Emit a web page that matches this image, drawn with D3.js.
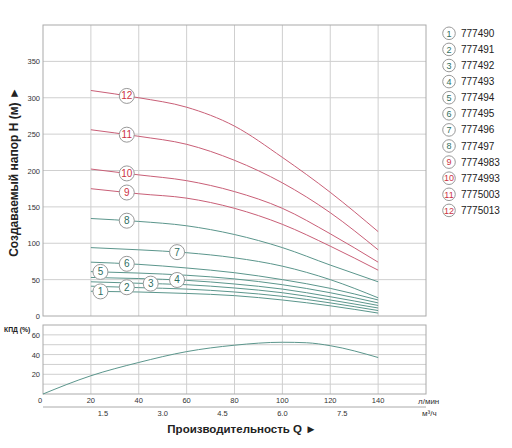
<!DOCTYPE html>
<html>
<head>
<meta charset="utf-8">
<script src="https://cdn.jsdelivr.net/npm/d3@7"></script>
<style>
    body { margin: 0; background: #fff; }
    svg { font-family: "Liberation Sans", Arial, sans-serif; }
</style>
</head>
<body>
<svg id="chart" width="512" height="448"></svg>
<script>
// Flow points (l/min) where the head curves were read
const flowLpm = [20, 40, 60, 80, 100, 120, 140];

// Head H (m) per pump
const head1  = [34, 33, 31, 28, 22, 14, 4];
const head2  = [41, 39, 37, 33, 27, 18, 7.5];
const head3  = [47, 45, 43, 38.5, 32, 22, 11];
const head4  = [53, 51.5, 49, 44, 37, 26.5, 14.5];
const head5  = [61, 59, 56, 51, 43, 32, 18];
const head6  = [74, 71, 66, 59.5, 50, 38, 22];
const head7  = [94, 91, 87, 80, 68.5, 50, 25];
const head8  = [134, 130, 124, 112, 94, 70, 47];
const head9  = [175, 168, 162, 148, 126, 96, 63];
const head10 = [202, 194, 186, 171, 148, 113, 74];
const head11 = [256, 247, 236, 214, 183, 142, 91];
const head12 = [310, 300, 287, 261, 218, 170, 116];
const heads = [head1, head2, head3, head4, head5, head6, head7, head8, head9, head10, head11, head12];

const models = ['777490', '777491', '777492', '777493', '777494', '777495',
                '777496', '777497', '7774983', '7774993', '7775003', '7775013'];
// where each numbered marker sits along its curve (l/min)
const labelFlow = [24, 35, 45, 56, 24, 35, 56, 35, 35, 35, 35, 35];

// Efficiency curve
const effFlow   = [0, 20, 40, 60, 80, 100, 110, 120, 140];
const effValues = [0, 18.5, 32, 43, 49.5, 52.5, 52, 49, 37];

// Tick labels
const flowTicks  = [0, 20, 40, 60, 80, 100, 120, 140];
const cubicTicks = ['1.5', '3.0', '4.5', '6.0', '7.5'];
const headTicks  = [0, 50, 100, 150, 200, 250, 300, 350];
const effTicks   = [20, 40, 60];

const GREEN = '#5b968c', RED = '#c95f77';
const GREEN_TXT = '#2f6f62', RED_TXT = '#cc3344';
const GRID = '#cfcfcf', FRAME = '#aaaaaa';

const svg = d3.select('#chart');

const x = d3.scaleLinear().domain([0, 160]).range([43, 426]);
const xCubic = d3.scaleLinear().domain([0, 9.6]).range([43, 426]);
const yH = d3.scaleLinear().domain([0, 400]).range([316, 25]);
const yE = d3.scaleLinear().domain([0, 70]).range([394, 325]);

function drawPanel(yScale, hTicks, top, bottom) {
    const g = svg.append('g');
    g.selectAll('line.v').data(d3.range(20, 160, 20)).enter().append('line')
        .attr('x1', d => x(d)).attr('x2', d => x(d))
        .attr('y1', top).attr('y2', bottom)
        .attr('stroke', GRID).attr('stroke-width', 1);
    g.selectAll('line.h').data(hTicks).enter().append('line')
        .attr('x1', x(0)).attr('x2', x(160))
        .attr('y1', d => yScale(d)).attr('y2', d => yScale(d))
        .attr('stroke', GRID).attr('stroke-width', 1);
    g.append('rect')
        .attr('x', x(0)).attr('y', top)
        .attr('width', x(160) - x(0)).attr('height', bottom - top)
        .attr('fill', 'none').attr('stroke', FRAME).attr('stroke-width', 1);
    return g;
}

// ---- head panel ----
drawPanel(yH, d3.range(50, 400, 50), yH(400), yH(0));

svg.append('g').selectAll('text').data(headTicks).enter().append('text')
    .attr('x', 40).attr('y', d => yH(d) + 3)
    .attr('text-anchor', 'end').attr('font-size', 7.5).attr('fill', '#333')
    .text(d => d);

const headLine = d3.line()
    .x((d, i) => x(flowLpm[i]))
    .y(d => yH(d))
    .curve(d3.curveMonotoneX);

svg.append('g').selectAll('path').data(heads).enter().append('path')
    .attr('d', headLine)
    .attr('fill', 'none')
    .attr('stroke', (d, i) => i >= 8 ? RED : GREEN)
    .attr('stroke-width', 1);

// numbered markers on curves
function headAt(series, q) {
    const i = Math.max(0, Math.min(flowLpm.length - 2, d3.bisectRight(flowLpm, q) - 1));
    const t = (q - flowLpm[i]) / (flowLpm[i + 1] - flowLpm[i]);
    return series[i] + t * (series[i + 1] - series[i]);
}

const markers = svg.append('g').selectAll('g').data(heads).enter().append('g')
    .attr('transform', (d, i) => `translate(${x(labelFlow[i])},${yH(headAt(d, labelFlow[i]))})`);
markers.append('circle').attr('r', 7.5)
    .attr('fill', '#fff').attr('stroke', '#999').attr('stroke-width', 1);
markers.append('text')
    .attr('text-anchor', 'middle').attr('y', 3.5).attr('font-size', 10)
    .attr('fill', (d, i) => i >= 8 ? RED_TXT : GREEN_TXT)
    .text((d, i) => i + 1);

// y title
svg.append('text')
    .attr('transform', 'translate(18,172) rotate(-90)')
    .attr('text-anchor', 'middle').attr('font-size', 12).attr('font-weight', 'bold')
    .attr('fill', '#222')
    .text('Создаваемый напор H (м) ►');

// ---- legend ----
const legend = svg.append('g').selectAll('g').data(models).enter().append('g')
    .attr('transform', (d, i) => `translate(449,${33.3 + i * 16.1})`);
legend.append('circle').attr('r', 6.3)
    .attr('fill', '#fff').attr('stroke', '#999').attr('stroke-width', 1);
legend.append('text')
    .attr('text-anchor', 'middle').attr('y', 3.2).attr('font-size', 9)
    .attr('fill', (d, i) => i >= 8 ? RED_TXT : GREEN_TXT)
    .text((d, i) => i + 1);
legend.append('text')
    .attr('x', 12).attr('y', 3.5).attr('font-size', 10).attr('fill', '#222')
    .text(d => d);

// ---- efficiency panel ----
drawPanel(yE, d3.range(10, 70, 10), yE(70), yE(0));

svg.append('g').selectAll('text').data(effTicks).enter().append('text')
    .attr('x', 40).attr('y', d => yE(d) + 3)
    .attr('text-anchor', 'end').attr('font-size', 7.5).attr('fill', '#333')
    .text(d => d);

svg.append('text')
    .attr('x', 4).attr('y', 331.5)
    .attr('font-size', 6.8).attr('font-weight', 'bold').attr('fill', '#222')
    .text('КПД (%)');

const effLine = d3.line()
    .x((d, i) => x(effFlow[i]))
    .y(d => yE(d))
    .curve(d3.curveMonotoneX);

svg.append('path').datum(effValues)
    .attr('d', effLine)
    .attr('fill', 'none').attr('stroke', GREEN).attr('stroke-width', 1);

// ---- flow axes ----
svg.append('g').selectAll('text').data(flowTicks).enter().append('text')
    .attr('x', d => x(d) - (d === 0 ? 3 : 0)).attr('y', 403)
    .attr('text-anchor', 'middle').attr('font-size', 7.5).attr('fill', '#333')
    .text(d => d);

svg.append('text').attr('x', 418).attr('y', 404)
    .attr('font-size', 8).attr('fill', '#333').text('л/мин');

svg.append('line')
    .attr('x1', x(0)).attr('x2', x(160))
    .attr('y1', 407).attr('y2', 407)
    .attr('stroke', FRAME).attr('stroke-width', 1);

svg.append('g').selectAll('text').data(cubicTicks).enter().append('text')
    .attr('x', d => xCubic(+d)).attr('y', 416)
    .attr('text-anchor', 'middle').attr('font-size', 7.5).attr('fill', '#333')
    .text(d => d);

svg.append('text').attr('x', 422).attr('y', 416)
    .attr('font-size', 8).attr('fill', '#333').text('м³/ч');

svg.append('text')
    .attr('x', 242).attr('y', 433)
    .attr('text-anchor', 'middle').attr('font-size', 11.5).attr('font-weight', 'bold')
    .attr('fill', '#222')
    .text('Производительность Q ►');
</script>
</body>
</html>
